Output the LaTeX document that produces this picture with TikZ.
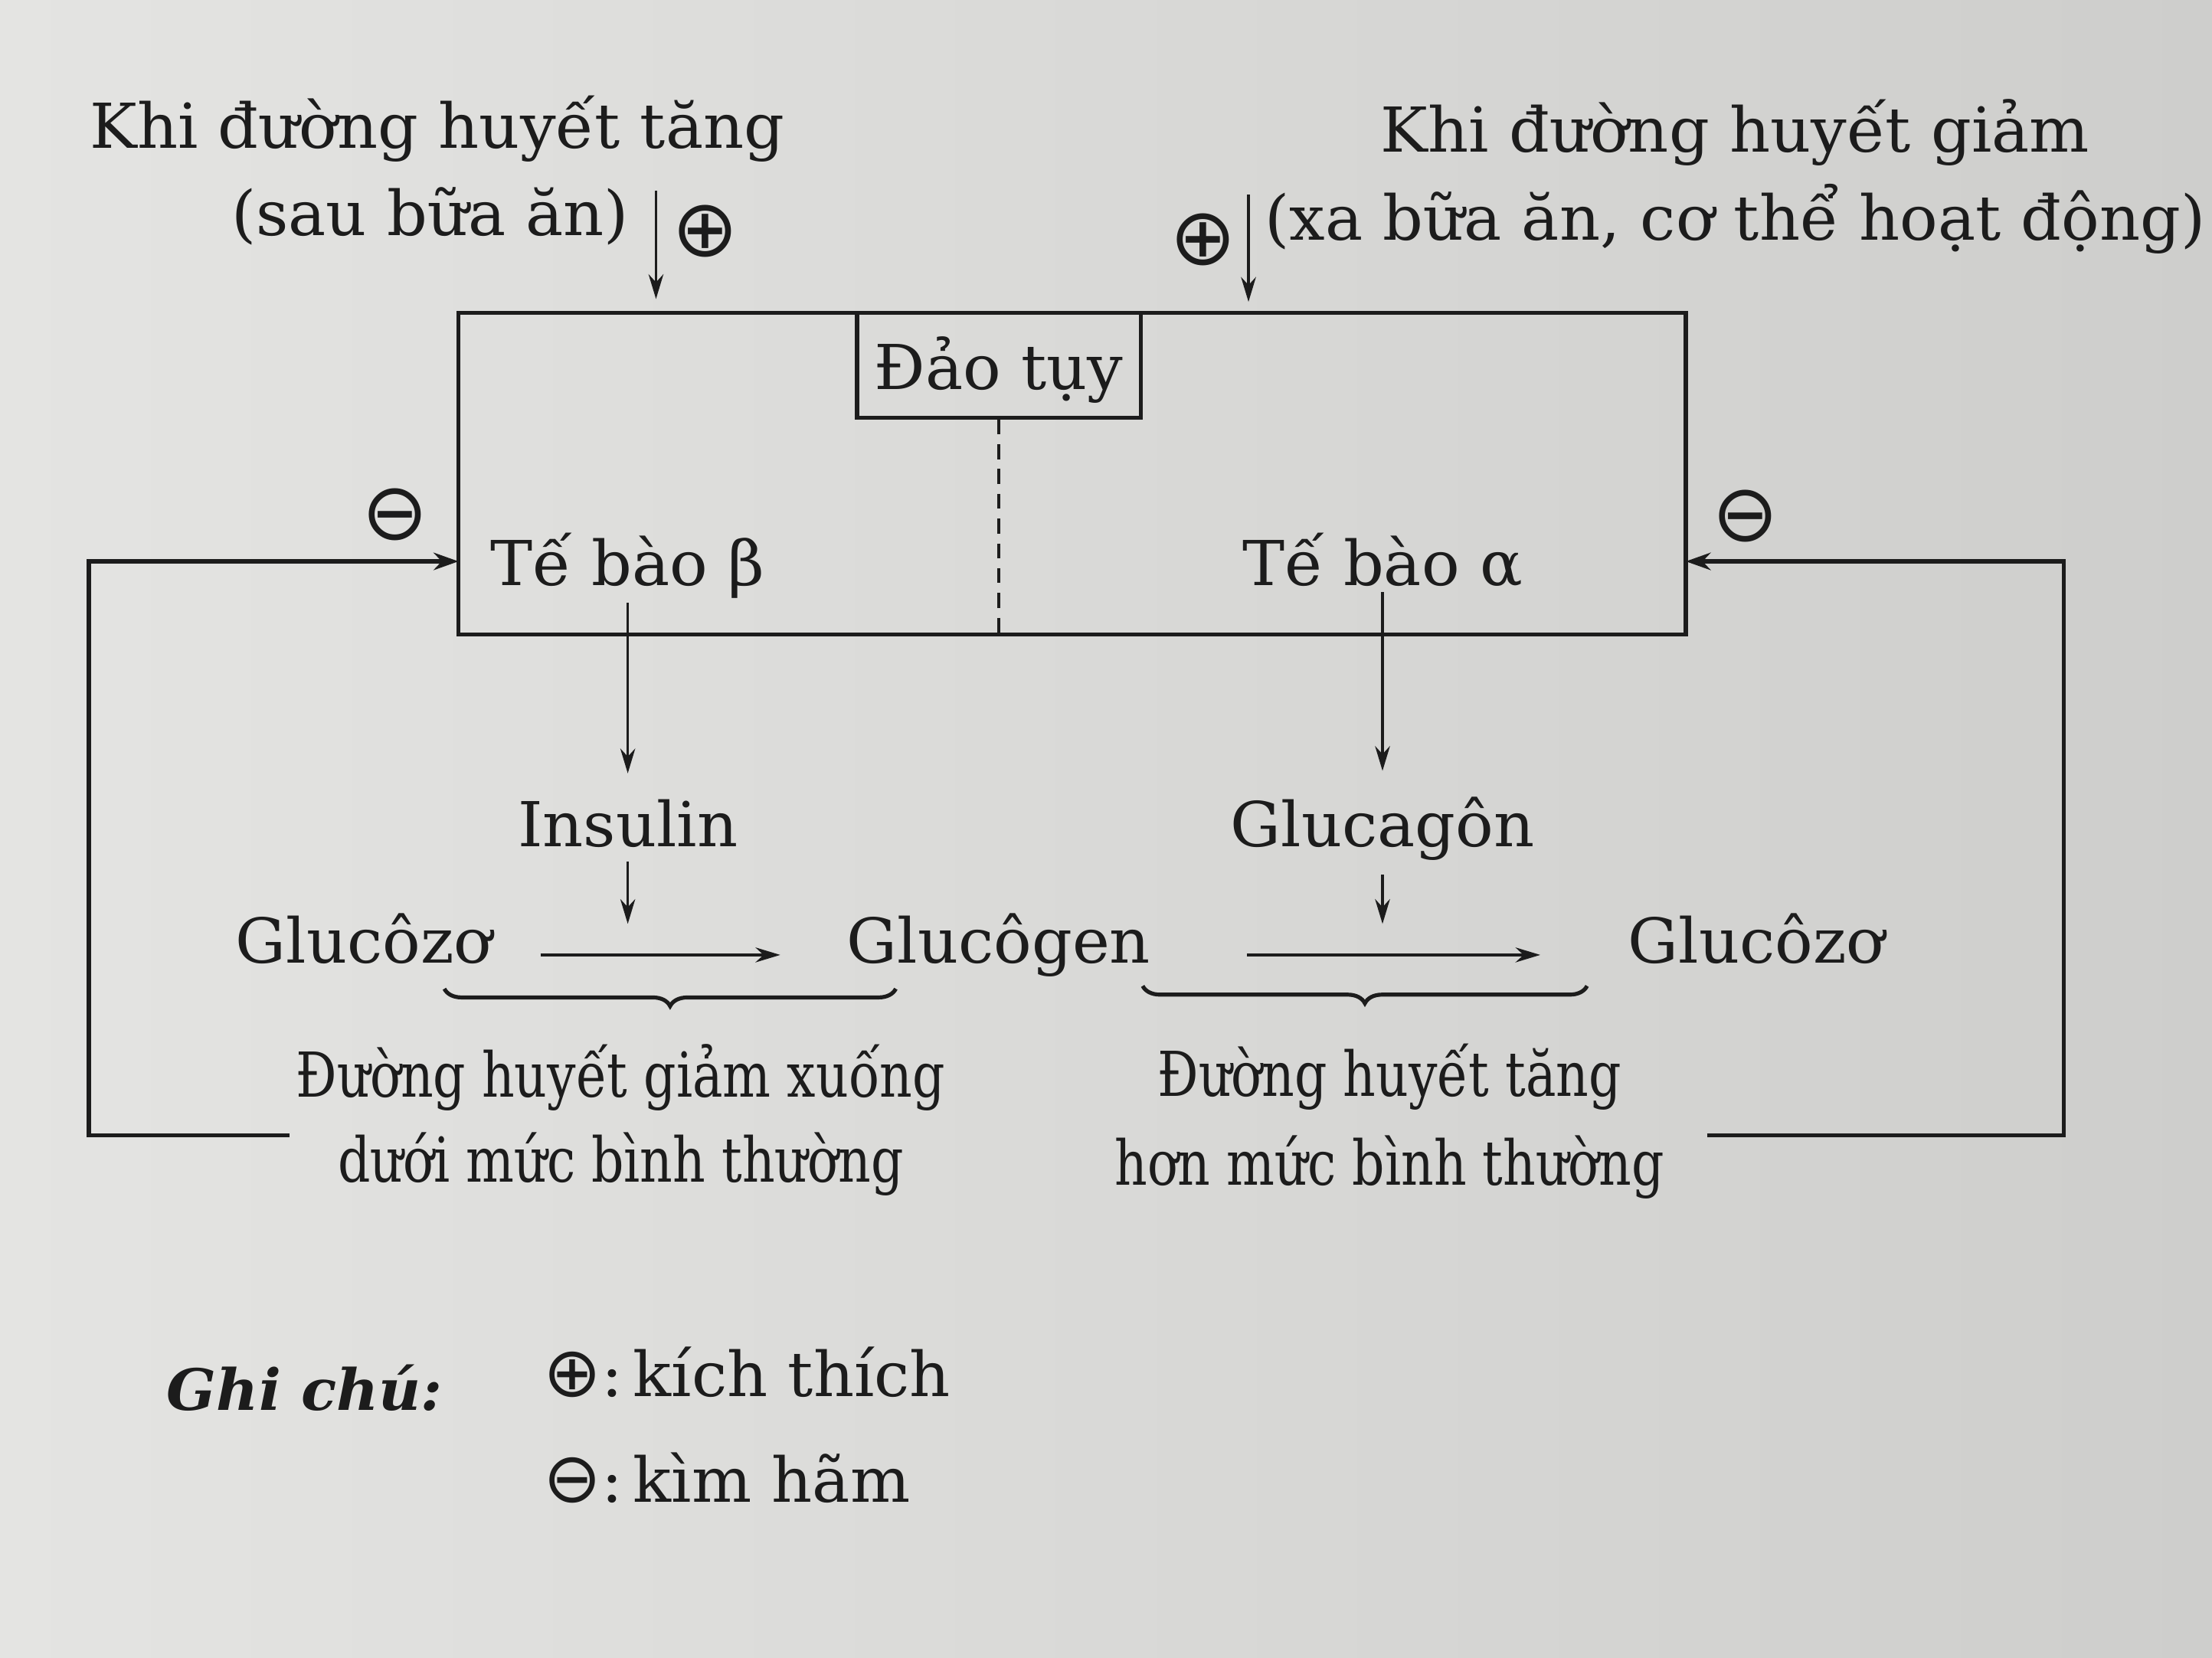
\documentclass[tikz,border=0pt]{standalone}
\usepackage{fontspec}
\setmainfont{DejaVu Serif}[FakeStretch=1.02]
\newfontfamily\symfont{DejaVu Sans}
\newfontfamily\narrowfont[FakeStretch=0.82]{DejaVu Serif}
\usetikzlibrary{arrows.meta,decorations.pathreplacing}

\definecolor{paperL}{RGB}{228,228,226}
\definecolor{paperR}{RGB}{206,206,204}
\definecolor{ink}{RGB}{28,28,28}
\newcommand{\stim}{{\fontsize{32}{32}\symfont ⊕}}
\newcommand{\inhib}{{\fontsize{32}{32}\symfont ⊖}}
\newcommand{\keystim}{{\fontsize{28}{28}\symfont ⊕}}
\newcommand{\keyinhib}{{\fontsize{28}{28}\symfont ⊖}}

\begin{document}
\begin{tikzpicture}[x=0.02cm,y=-0.02cm,
  every node/.style={text=ink,font=\fontsize{25}{29}\selectfont,inner sep=0pt},
  txt/.style={anchor=base},
  small/.style={anchor=base,font=\fontsize{25}{29}\narrowfont},
  frame/.style={draw=ink,line width=1.6pt},
  flow/.style={draw=ink,line width=1.1pt,-{Stealth[length=10pt,width=6pt]}},
  feed/.style={draw=ink,line width=1.7pt,-{Stealth[length=10pt,width=7pt]}},
  brc/.style={draw=ink,line width=1.6pt,decorate,decoration={brace,amplitude=7pt,mirror}}]
  \useasboundingbox (0,0) rectangle (1568,1175);
  \shade[left color=paperL,right color=paperR] (0,0) rectangle (1568,1175);

  % inputs
  \node[txt] (tang) at (310,105) {Khi đường huyết tăng};
  \node[txt] (sauan) at (305,167) {(sau bữa ăn)};
  \node[txt] (giam) at (1230,108) {Khi đường huyết giảm};
  \node[txt] (xaan) at (1230,170) {(xa bữa ăn, cơ thể hoạt động)};
  \node (plusL) at (500,164) {\stim};
  \node (plusR) at (853,170) {\stim};

  % pancreas island
  \coordinate (isl-nw) at (325,222);
  \coordinate (isl-se) at (1195,450);
  \draw[frame] (isl-nw) rectangle (isl-se);
  \node[frame,minimum width=4.02cm,minimum height=1.48cm] (dao) at (708,259) {};
  \node[txt] (daolbl) at (dao.center |- 0,276) {Đảo tụy};
  \draw[draw=ink,line width=1pt,dash pattern=on 6pt off 4pt] (dao.south) -- (dao.south |- isl-se);
  \node[txt] (beta) at (445,415) {Tế bào β};
  \node[txt] (alpha) at (980,415) {Tế bào α};

  \coordinate (inL) at (465,135);
  \coordinate (inR) at (885,138);
  \draw[flow,shorten >=0.2cm] (inL) -- (inL |- isl-nw);
  \draw[flow,shorten >=0.16cm] (inR) -- (inR |- isl-nw);

  % hormones
  \node[txt] (insulin) at (445,600) {Insulin};
  \node[txt] (glucagon) at (980,600) {Glucagôn};
  \draw[flow,shorten <=0.06cm,shorten >=0.36cm] (beta.south) -- (insulin.north);
  \draw[flow,shorten <=0.06cm,shorten >=0.36cm] (alpha.south) -- (glucagon.north);

  % reactions
  \node[txt] (gluL) at (258,683) {Glucôzơ};
  \node[txt] (glycogen) at (708,683) {Glucôgen};
  \node[txt] (gluR) at (1245,683) {Glucôzơ};
  \draw[flow] ([shift={(34,-6)}]gluL.base east) -- coordinate[pos=0.367] (rxL) ([shift={(-47,-6)}]glycogen.base west);
  \draw[flow] ([shift={(68,-6)}]glycogen.base east) -- coordinate[pos=0.465] (rxR) ([shift={(-62,-6)}]gluR.base west);
  \draw[flow,shorten <=0.2cm,shorten >=0.44cm] (insulin.south) -- (insulin.south |- rxL);
  \draw[flow,shorten <=0.2cm,shorten >=0.44cm] (glucagon.south) -- (glucagon.south |- rxR);

  \draw[brc] (315,701) -- (635,701);
  \draw[brc] (810,699) -- (1125,699);
  \node[small] (low1) at (440,778) {Đường huyết giảm xuống};
  \node[small] (low2) at (440,838) {dưới mức bình thường};
  \node[small] (high1) at (985,777) {Đường huyết tăng};
  \node[small] (high2) at (985,840) {hơn mức bình thường};

  % feedback
  \coordinate (fbL) at (205,805);
  \coordinate (cL) at (63,398);
  \coordinate (fbR) at (1210,805);
  \coordinate (cR) at (1463,398);
  \draw[feed] (fbL) -| (cL) -- (cL -| isl-nw);
  \draw[feed] (fbR) -| (cR) -- (cR -| isl-se);
  \node (minusL) at (280,365) {\inhib};
  \node (minusR) at (1237,366) {\inhib};

  % legend
  \node[anchor=base west,font=\fontsize{23}{27}\selectfont\bfseries\itshape] (note) at (118,1000) {Ghi chú:};
  \node[anchor=base west] (keyp) at (385,990) {\keystim:\,kích thích};
  \node[anchor=base west] (keym) at (385,1065) {\keyinhib:\,kìm hãm};
\end{tikzpicture}
\end{document}
